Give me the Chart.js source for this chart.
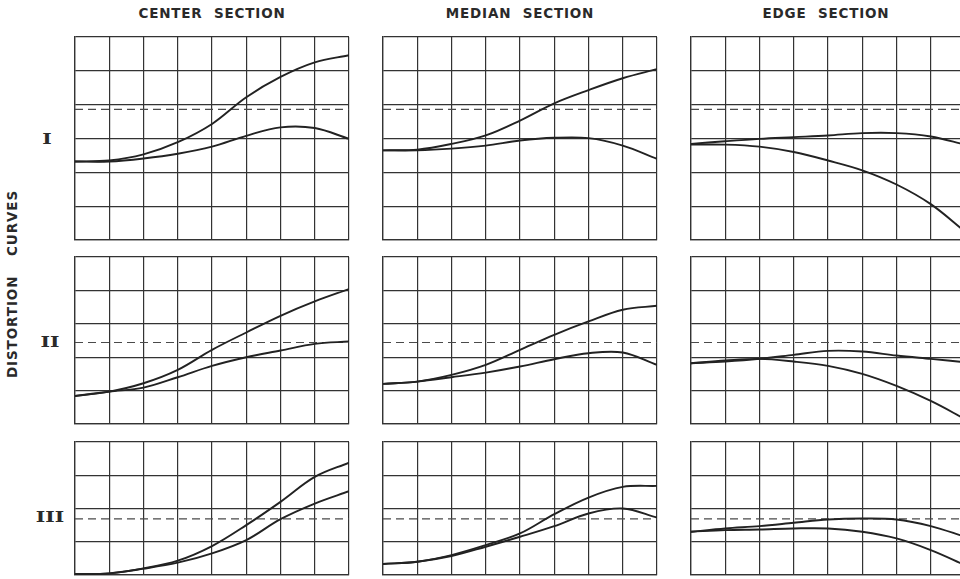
<!DOCTYPE html>
<html>
<head>
<meta charset="utf-8">
<script src="https://cdn.jsdelivr.net/npm/chart.js@4.4.0/dist/chart.umd.min.js"></script>
<style>
  html, body { margin: 0; padding: 0; background: #fff; }
  body { width: 960px; height: 579px; overflow: hidden; position: relative; font-family: "DejaVu Sans", "Liberation Sans", sans-serif; color: #2a2a2a; }
  .panel { position: absolute; }
  .coltitle { position: absolute; top: 5px; font-size: 13.5px; font-weight: bold; letter-spacing: 0.8px; word-spacing: 6px; white-space: nowrap; transform: translateX(-50%); }
  .rowlabel { position: absolute; font-family: "DejaVu Serif", serif; font-weight: bold; font-size: 15px; transform: translate(-50%, -50%) scaleX(1.35); }
  .side { position: absolute; left: 12px; top: 284px; font-size: 13.5px; font-weight: bold; letter-spacing: 0.9px; word-spacing: 14px; white-space: nowrap; transform: translate(-50%, -50%) rotate(-90deg); }
</style>
</head>
<body>
<div class="coltitle" style="left:212px">CENTER SECTION</div>
<div class="coltitle" style="left:520px">MEDIAN SECTION</div>
<div class="coltitle" style="left:826px">EDGE SECTION</div>
<div class="side">DISTORTION CURVES</div>
<div class="rowlabel" style="left:47px;top:139px">I</div>
<div class="rowlabel" style="left:50px;top:342px">II</div>
<div class="rowlabel" style="left:50px;top:517px">III</div>

<script>
const xSteps = [0, 1, 2, 3, 4, 5, 6, 7, 8];

// row I
const centerI_upper = [2.32, 2.35, 2.53, 2.89, 3.43, 4.22, 4.82, 5.25, 5.46];
const centerI_lower = [2.32, 2.32, 2.41, 2.55, 2.76, 3.08, 3.33, 3.31, 2.99];
const medianI_upper = [2.65, 2.67, 2.84, 3.09, 3.53, 4.04, 4.43, 4.78, 5.05];
const medianI_lower = [2.65, 2.65, 2.70, 2.79, 2.94, 3.02, 3.01, 2.79, 2.40];
const edgeI_upper = [2.84, 2.92, 2.99, 3.04, 3.09, 3.16, 3.16, 3.06, 2.82];
const edgeI_lower = [2.82, 2.82, 2.76, 2.60, 2.35, 2.06, 1.64, 1.06, 0.25];

// row II
const centerII_upper = [0.84, 0.97, 1.22, 1.62, 2.22, 2.74, 3.24, 3.67, 4.04];
const centerII_lower = [0.84, 0.97, 1.09, 1.40, 1.74, 2.00, 2.20, 2.40, 2.47];
const medianII_upper = [1.20, 1.27, 1.47, 1.77, 2.22, 2.67, 3.07, 3.42, 3.54];
const medianII_lower = [1.20, 1.27, 1.40, 1.54, 1.72, 1.94, 2.12, 2.14, 1.77];
const edgeII_upper = [1.82, 1.87, 1.95, 2.07, 2.19, 2.17, 2.05, 1.95, 1.85];
const edgeII_lower = [1.82, 1.90, 1.95, 1.87, 1.74, 1.50, 1.14, 0.69, 0.15];

// row III
const centerIII_upper = [0.03, 0.05, 0.20, 0.43, 0.87, 1.50, 2.20, 2.95, 3.38];
const centerIII_lower = [0.03, 0.05, 0.19, 0.37, 0.65, 1.05, 1.68, 2.15, 2.52];
const medianIII_upper = [0.33, 0.40, 0.60, 0.90, 1.25, 1.83, 2.33, 2.65, 2.68];
const medianIII_lower = [0.33, 0.40, 0.57, 0.85, 1.15, 1.47, 1.85, 2.00, 1.73];
const edgeIII_upper = [1.30, 1.40, 1.47, 1.57, 1.67, 1.70, 1.67, 1.47, 1.15];
const edgeIII_lower = [1.30, 1.35, 1.37, 1.40, 1.40, 1.30, 1.10, 0.75, 0.30];

// dashed reference level per row, and number of grid rows
const dashLevels = [3.86, 2.44, 1.69];
const rowMax = [6, 5, 4];

const panels = [
  [centerI_upper, centerI_lower], [medianI_upper, medianI_lower], [edgeI_upper, edgeI_lower],
  [centerII_upper, centerII_lower], [medianII_upper, medianII_lower], [edgeII_upper, edgeII_lower],
  [centerIII_upper, centerIII_lower], [medianIII_upper, medianIII_lower], [edgeIII_upper, edgeIII_lower],
];

const colLeft = [75, 383, 691];
const rowTop = [37, 257, 442];
const rowH = [203, 167, 133];
const plotW = 274;
const pad = 3;
const ink = '#222';

function pts(vals) {
  return vals.map((v, i) => ({ x: xSteps[i], y: v }));
}

panels.forEach((p, idx) => {
  const r = Math.floor(idx / 3), c = idx % 3;
  const div = document.createElement('div');
  div.className = 'panel';
  div.style.left = (colLeft[c] - pad) + 'px';
  div.style.top = (rowTop[r] - pad) + 'px';
  const cv = document.createElement('canvas');
  cv.width = plotW + 2 * pad;
  cv.height = rowH[r] + 2 * pad;
  div.appendChild(cv);
  document.body.appendChild(div);

  const curve = (vals) => ({
    data: pts(vals),
    borderColor: ink,
    borderWidth: 1.9,
    pointRadius: 0,
    tension: 0.35,
    fill: false,
  });

  new Chart(cv, {
    type: 'line',
    data: {
      datasets: [
        curve(p[0]),
        curve(p[1]),
        {
          data: [{ x: 0, y: dashLevels[r] }, { x: 8, y: dashLevels[r] }],
          borderColor: '#4a4a4a',
          borderWidth: 1.2,
          borderDash: [8, 5],
          pointRadius: 0,
          tension: 0,
        },
      ],
    },
    options: {
      responsive: false,
      animation: false,
      layout: { padding: pad },
      plugins: { legend: { display: false }, tooltip: { enabled: false } },
      scales: {
        x: {
          type: 'linear', min: 0, max: 8,
          ticks: { display: false, stepSize: 1 },
          grid: { color: '#333', lineWidth: 1.2, drawTicks: false },
          border: { display: true, color: '#333', width: 1.3 },
        },
        y: {
          type: 'linear', min: 0, max: rowMax[r],
          ticks: { display: false, stepSize: 1 },
          grid: { color: '#333', lineWidth: 1.2, drawTicks: false },
          border: { display: true, color: '#333', width: 1.3 },
        },
      },
    },
  });
});
</script>
</body>
</html>
